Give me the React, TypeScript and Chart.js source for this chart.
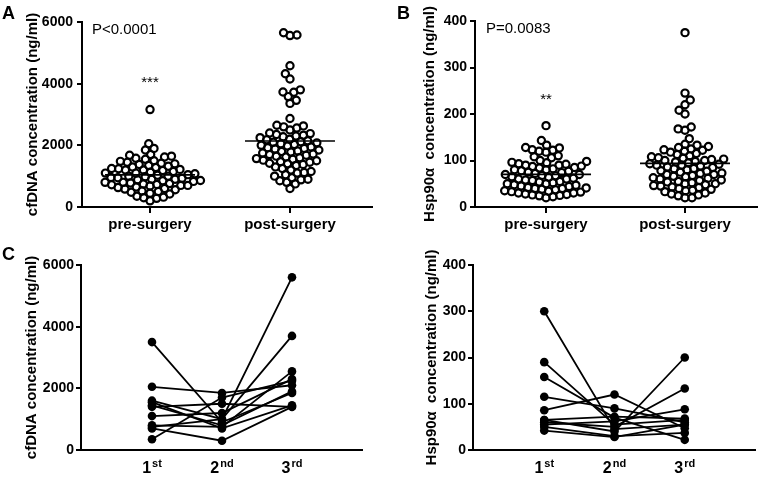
import React, { useEffect, useRef } from 'react';
import { Chart, registerables } from 'chart.js';

Chart.register(...registerables);

const FONT = '"Liberation Sans", Arial, Helvetica, sans-serif';

// ---------- Panel A / B data ----------
const groupLabels = ['pre-surgery', 'post-surgery'];

const cfdnaPre = [
  3160, 2050, 1900, 1850, 1700, 1680, 1650, 1620, 1580, 1550,
  1500, 1480, 1450, 1420, 1400, 1380, 1350, 1320, 1300, 1280,
  1250, 1240, 1220, 1200, 1200, 1180, 1150, 1130, 1100, 1100,
  1080, 1050, 1030, 1000, 1000, 980, 960, 950, 930, 900,
  900, 880, 860, 850, 830, 800, 800, 780, 760, 750,
  730, 720, 700, 700, 680, 650, 630, 600, 580, 560,
  520, 500, 480, 450, 420, 350, 320, 300, 280, 200,
];

const cfdnaPost = [
  5650, 5580, 5560, 4580, 4320, 4150, 3800, 3730, 3720, 3580,
  3460, 3360, 2870,
  2650, 2630, 2600, 2560, 2500, 2400, 2380, 2350, 2330, 2300,
  2280, 2250, 2200, 2180, 2150, 2120, 2100, 2080, 2050, 2030,
  2000, 1980, 1950, 1920, 1900, 1880, 1850, 1820, 1800, 1780,
  1750, 1720, 1700, 1680, 1650, 1620, 1600, 1570, 1550, 1520,
  1500, 1470, 1450, 1420, 1400, 1380, 1350, 1300, 1250, 1200,
  1150, 1120, 1100, 1050, 1000, 950, 900, 880, 850, 800,
  750, 600,
];

const hspPre = [
  175, 143, 133, 128, 127, 123, 122, 120, 118, 110,
  108, 106, 100, 98, 96, 95, 93, 92, 90, 90,
  88, 87, 85, 84, 82, 80, 80, 78, 77, 75,
  74, 72, 70, 70, 68, 67, 65, 64, 62, 60,
  60, 58, 57, 55, 54, 52, 50, 50, 48, 47,
  45, 44, 42, 41, 40, 40, 38, 37, 35, 34,
  33, 32, 30, 30, 28, 27, 26, 25, 24, 22, 20,
];

const hspPost = [
  375, 245, 230, 220, 208, 200, 172, 168, 165, 147,
  135, 133, 130, 128, 125, 123, 122, 120, 118, 115,
  113, 110, 108, 106, 105, 103, 102, 100, 100, 98,
  97, 95, 93, 92, 90, 90, 88, 86, 85, 83,
  82, 80, 78, 77, 75, 73, 72, 70, 70, 68,
  66, 65, 63, 62, 60, 58, 57, 55, 54, 52,
  50, 50, 48, 46, 45, 43, 42, 40, 38, 36,
  35, 33, 30, 28, 26, 24, 20, 20,
];

const cfdnaTicks = [0, 2000, 4000, 6000];
const hspTicks = [0, 100, 200, 300, 400];

// ---------- Panel C / D data (one entry per patient) ----------
const visitBase = ['1', '2', '3'];
const visitSup = ['st', 'nd', 'rd'];

const cfdnaVisit1 = [3500, 2050, 1600, 1550, 1400, 1100, 800, 750, 700, 350, 1450];
const cfdnaVisit2 = [900, 1850, 1000, 700, 1500, 1200, 750, 1000, 300, 1700, 800];
const cfdnaVisit3 = [1850, 2100, 5600, 1450, 1400, 2300, 2550, 3700, 1400, 2250, 1900];

const hspVisit1 = [300, 190, 158, 115, 86, 65, 60, 55, 50, 42, 65];
const hspVisit2 = [45, 55, 70, 90, 120, 40, 50, 62, 30, 28, 72];
const hspVisit3 = [55, 65, 22, 60, 47, 200, 133, 88, 37, 55, 68];

const cfdnaTitle = 'cfDNA concentration (ng/ml)';
const hspTitle = 'Hsp90\u03B1  concentration (ng/ml)';

// ---------- plugins ----------
function swarmPlugin(spacing: number) {
  return {
    id: 'swarm',
    afterDatasetsUpdate(chart: any) {
      const xs = chart.scales.x;
      chart.data.datasets.forEach((ds: any, di: number) => {
        if (!ds.swarm) return;
        const pts = chart.getDatasetMeta(di).data as any[];
        if (!pts.length) return;
        const cx = xs.getPixelForValue(ds.data[0].x);
        const order = pts.map((_: any, i: number) => i).sort((a: number, b: number) => pts[b].y - pts[a].y);
        const placed: { x: number; y: number }[] = [];
        let flip = 1;
        for (const i of order) {
          const y = pts[i].y;
          const iv: [number, number][] = [];
          for (const p of placed) {
            const dy = Math.abs(p.y - y);
            if (dy < spacing) {
              const dx = Math.sqrt(spacing * spacing - dy * dy);
              iv.push([p.x - dx, p.x + dx]);
            }
          }
          const cands = [0];
          for (const [a, b] of iv) cands.push(a, b);
          const valid = cands.filter((c) => iv.every(([a, b]) => c <= a + 1e-6 || c >= b - 1e-6));
          valid.sort((a, b) => Math.abs(a) - Math.abs(b));
          let off = valid.length ? valid[0] : 0;
          if (off !== 0) {
            const best = Math.abs(off);
            const near = valid.filter((c) => Math.abs(c) <= best + 1.2);
            const pref = near.find((c) => Math.sign(c) === flip);
            if (pref !== undefined) off = pref;
            flip = -flip;
          }
          placed.push({ x: off, y });
          pts[i].x = cx + off;
        }
      });
    },
  };
}

function meanPlugin(halfWidth: number) {
  return {
    id: 'meanLine',
    afterDatasetsDraw(chart: any) {
      const { ctx, scales } = chart;
      chart.data.datasets.forEach((ds: any) => {
        if (!ds.swarm) return;
        const vals = ds.data.map((d: any) => d.y);
        const mean = vals.reduce((s: number, v: number) => s + v, 0) / vals.length;
        const cx = scales.x.getPixelForValue(ds.data[0].x);
        const y = scales.y.getPixelForValue(mean);
        ctx.save();
        ctx.strokeStyle = '#000';
        ctx.lineWidth = 1.6;
        ctx.beginPath();
        ctx.moveTo(cx - halfWidth, y);
        ctx.lineTo(cx + halfWidth, y);
        ctx.stroke();
        ctx.restore();
      });
    },
  };
}

type TextItem = { text: string; font: string; mode: 'data' | 'area' | 'canvas'; x: number; y: number; align?: CanvasTextAlign };

function textPlugin(items: TextItem[]) {
  return {
    id: 'texts',
    afterDraw(chart: any) {
      const { ctx, chartArea, scales } = chart;
      items.forEach((it) => {
        let x = it.x;
        let y = it.y;
        if (it.mode === 'data') {
          x = scales.x.getPixelForValue(it.x);
          y = scales.y.getPixelForValue(it.y);
        } else if (it.mode === 'area') {
          x = chartArea.left + it.x;
          y = chartArea.top + it.y;
        }
        ctx.save();
        ctx.font = it.font;
        ctx.fillStyle = '#000';
        ctx.textAlign = it.align || 'left';
        ctx.textBaseline = 'alphabetic';
        ctx.fillText(it.text, x, y);
        ctx.restore();
      });
    },
  };
}

function visitLabelPlugin(offsetY: number) {
  return {
    id: 'visitLabels',
    afterDraw(chart: any) {
      const { ctx, scales, chartArea } = chart;
      const y = chartArea.bottom + offsetY;
      const bf = `bold 16px ${FONT}`;
      const sf = `bold 11px ${FONT}`;
      visitBase.forEach((b, i) => {
        const x = scales.x.getPixelForValue(i + 1);
        ctx.save();
        ctx.fillStyle = '#000';
        ctx.textAlign = 'left';
        ctx.textBaseline = 'alphabetic';
        ctx.font = bf;
        const bw = ctx.measureText(b).width;
        ctx.font = sf;
        const sw = ctx.measureText(visitSup[i]).width;
        const x0 = x - (bw + sw + 1) / 2;
        ctx.font = bf;
        ctx.fillText(b, x0, y);
        ctx.font = sf;
        ctx.fillText(visitSup[i], x0 + bw + 1, y - 6.5);
        ctx.restore();
      });
    },
  };
}

// ---------- axis builders ----------
function yAxis(ticks: number[], title: string, width: number, titlePad: number, tickPad: number) {
  return {
    type: 'linear',
    min: ticks[0],
    max: ticks[ticks.length - 1],
    afterBuildTicks: (s: any) => {
      s.ticks = ticks.map((v) => ({ value: v }));
    },
    afterFit: (s: any) => {
      s.width = width;
    },
    ticks: {
      color: '#000',
      font: { family: FONT, size: 14, weight: 'bold' },
      padding: tickPad,
      autoSkip: false,
      callback: (v: any) => String(v),
    },
    grid: {
      display: true,
      drawOnChartArea: false,
      drawTicks: true,
      tickLength: 5,
      tickWidth: 2,
      tickColor: '#000',
      color: '#000',
      lineWidth: 2,
    },
    border: { display: true, color: '#000', width: 2 },
    title: {
      display: true,
      text: title,
      color: '#000',
      font: { family: FONT, size: 15, weight: 'bold' },
      padding: { top: titlePad, bottom: 0 },
    },
  };
}

function xGroupAxis(min: number, max: number, height: number) {
  return {
    type: 'linear',
    min,
    max,
    afterBuildTicks: (s: any) => {
      s.ticks = groupLabels.map((_, i) => ({ value: i + 1 }));
    },
    afterFit: (s: any) => {
      s.height = height;
    },
    ticks: {
      color: '#000',
      font: { family: FONT, size: 15, weight: 'bold' },
      padding: 3,
      autoSkip: false,
      maxRotation: 0,
      callback: (v: any) => groupLabels[Math.round(v) - 1] ?? '',
    },
    grid: {
      display: true,
      drawOnChartArea: false,
      drawTicks: true,
      tickLength: 6,
      tickWidth: 2,
      tickColor: '#000',
      color: '#000',
      lineWidth: 2,
    },
    border: { display: true, color: '#000', width: 2 },
  };
}

function xVisitAxis(min: number, max: number, height: number) {
  return {
    type: 'linear',
    min,
    max,
    afterFit: (s: any) => {
      s.height = height;
    },
    ticks: { display: false },
    grid: { display: false, drawTicks: false },
    border: { display: true, color: '#000', width: 2 },
  };
}

type Frame = {
  ticks: number[];
  title: string;
  yWidth: number;
  titlePad: number;
  tickPad: number;
  xMin: number;
  xMax: number;
  padTop: number;
  padRight: number;
  xHeight: number;
  texts: TextItem[];
};

// ---------- configs ----------
function swarmConfig(o: Frame & { pre: number[]; post: number[] }) {
  const mk = (vals: number[], xv: number) => ({
    swarm: true,
    data: vals.map((v) => ({ x: xv, y: v })),
    pointRadius: 3.6,
    pointHoverRadius: 3.6,
    pointBorderWidth: 2.2,
    pointBorderColor: '#000',
    pointBackgroundColor: 'rgba(0,0,0,0)',
    showLine: false,
  });
  return {
    type: 'scatter',
    data: { datasets: [mk(o.pre, 1), mk(o.post, 2)] },
    options: {
      responsive: false,
      maintainAspectRatio: false,
      animation: false,
      layout: { padding: { left: 0, top: o.padTop, right: o.padRight, bottom: 0 } },
      plugins: { legend: { display: false }, tooltip: { enabled: false } },
      scales: {
        x: xGroupAxis(o.xMin, o.xMax, o.xHeight),
        y: yAxis(o.ticks, o.title, o.yWidth, o.titlePad, o.tickPad),
      },
    },
    plugins: [swarmPlugin(7), meanPlugin(45), textPlugin(o.texts)],
  };
}

function pairedConfig(o: Frame & { v1: number[]; v2: number[]; v3: number[] }) {
  const datasets = o.v1.map((_, i) => ({
    data: [
      { x: 1, y: o.v1[i] },
      { x: 2, y: o.v2[i] },
      { x: 3, y: o.v3[i] },
    ],
    showLine: true,
    borderColor: '#000',
    borderWidth: 1.8,
    pointRadius: 4.3,
    pointHoverRadius: 4.3,
    pointBorderWidth: 0,
    pointBackgroundColor: '#000',
    pointBorderColor: '#000',
  }));
  return {
    type: 'scatter',
    data: { datasets },
    options: {
      responsive: false,
      maintainAspectRatio: false,
      animation: false,
      layout: { padding: { left: 0, top: o.padTop, right: o.padRight, bottom: 0 } },
      plugins: { legend: { display: false }, tooltip: { enabled: false } },
      scales: {
        x: xVisitAxis(o.xMin, o.xMax, o.xHeight),
        y: yAxis(o.ticks, o.title, o.yWidth, o.titlePad, o.tickPad),
      },
    },
    plugins: [visitLabelPlugin(23), textPlugin(o.texts)],
  };
}

const letterFont = `bold 18px ${FONT}`;
const pFont = `15px ${FONT}`;

const configA = () =>
  swarmConfig({
    pre: cfdnaPre,
    post: cfdnaPost,
    ticks: cfdnaTicks,
    title: cfdnaTitle,
    yWidth: 82,
    titlePad: 24,
    tickPad: 4,
    xMin: 0.514,
    xMax: 2.586,
    padTop: 22,
    padRight: 10,
    xHeight: 38,
    texts: [
      { text: 'A', font: letterFont, mode: 'canvas', x: 2, y: 19 },
      { text: 'P<0.0001', font: pFont, mode: 'area', x: 10, y: 12 },
      { text: '***', font: pFont, mode: 'data', x: 1, y: 3890, align: 'center' },
    ],
  });

const configB = () =>
  swarmConfig({
    pre: hspPre,
    post: hspPost,
    ticks: hspTicks,
    title: hspTitle,
    yWidth: 93,
    titlePad: 39,
    tickPad: 3,
    xMin: 0.489,
    xMax: 2.518,
    padTop: 21,
    padRight: 7,
    xHeight: 38,
    texts: [
      { text: 'B', font: letterFont, mode: 'canvas', x: 15, y: 19 },
      { text: 'P=0.0083', font: pFont, mode: 'area', x: 11, y: 11.5 },
      { text: '**', font: pFont, mode: 'data', x: 1, y: 221, align: 'center' },
    ],
  });

const configC = () =>
  pairedConfig({
    v1: cfdnaVisit1,
    v2: cfdnaVisit2,
    v3: cfdnaVisit3,
    ticks: cfdnaTicks,
    title: cfdnaTitle,
    yWidth: 81,
    titlePad: 23,
    tickPad: 2,
    xMin: -0.014,
    xMax: 4.0,
    padTop: 20,
    padRight: 20,
    xHeight: 40,
    texts: [{ text: 'C', font: letterFont, mode: 'canvas', x: 2, y: 15 }],
  });

const configD = () =>
  pairedConfig({
    v1: hspVisit1,
    v2: hspVisit2,
    v3: hspVisit3,
    ticks: hspTicks,
    title: hspTitle,
    yWidth: 91,
    titlePad: 40.7,
    tickPad: 2,
    xMin: -0.014,
    xMax: 4.0,
    padTop: 20,
    padRight: 9,
    xHeight: 40,
    texts: [],
  });

function ChartCanvas({ config, left, top }: { config: () => any; left: number; top: number }) {
  const ref = useRef<HTMLCanvasElement>(null);
  useEffect(() => {
    const chart = new Chart(ref.current as HTMLCanvasElement, config() as any);
    return () => chart.destroy();
  }, [config]);
  return (
    <canvas
      ref={ref}
      width={382}
      height={245}
      style={{ position: 'absolute', left, top, width: 382, height: 245, display: 'block' }}
    />
  );
}

export default function App() {
  return (
    <div style={{ position: 'absolute', left: 0, top: 0, width: 764, height: 490, background: '#fff' }}>
      <ChartCanvas config={configA} left={0} top={0} />
      <ChartCanvas config={configB} left={382} top={0} />
      <ChartCanvas config={configC} left={0} top={245} />
      <ChartCanvas config={configD} left={382} top={245} />
    </div>
  );
}
